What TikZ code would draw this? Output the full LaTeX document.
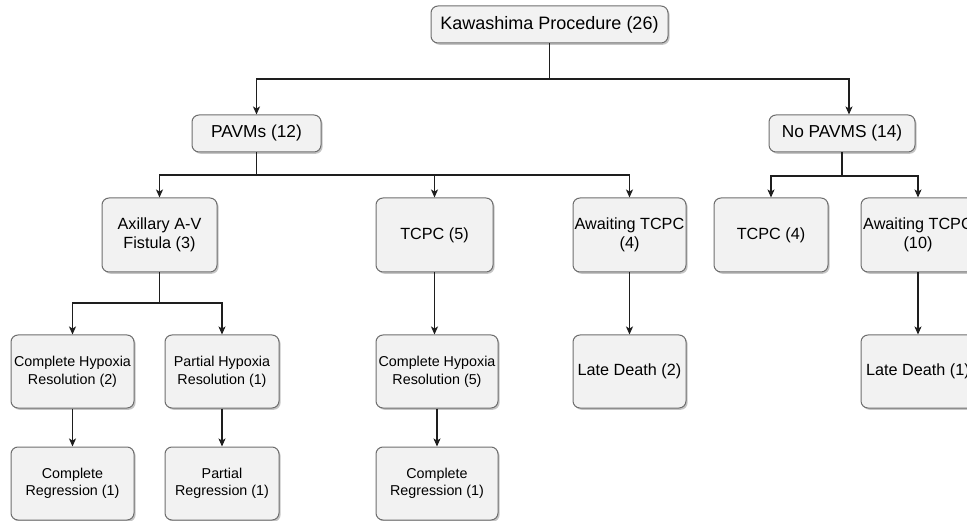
\documentclass[tikz,border=0pt]{standalone}
\usepackage{fontspec}
\setmainfont{Liberation Sans}
\usetikzlibrary{arrows.meta,shadows}
\definecolor{boxfill}{HTML}{F2F2F2}
\definecolor{boxdraw}{HTML}{6E6E6E}
\definecolor{linec}{HTML}{1E1E1E}
\tikzset{
  box/.style={draw=boxdraw, line width=1pt, fill=boxfill, rounded corners=7pt,
    align=center, inner sep=0pt, anchor=center,
    drop shadow={shadow xshift=1.6pt, shadow yshift=-1.8pt, fill=black!45, opacity=0.5}},
  fa/.style={font=\fontsize{18}{21}\selectfont},
  fb/.style={font=\fontsize{17.3}{20}\selectfont},
  fc/.style={font=\fontsize{16.2}{19.5}\selectfont},
  fd/.style={font=\fontsize{14.3}{17.6}\selectfont},
  conn/.style={draw=linec, line width=1.1pt},
  arr/.style={conn, -{Stealth[length=8pt,width=7pt,inset=2pt]}}
}
\begin{document}
\begin{tikzpicture}[x=1pt,y=-1pt]
\useasboundingbox (0,0) rectangle (967,521);
\clip (0,0) rectangle (967,521);
% nodes
\node[box,fa,minimum width=237pt,minimum height=37pt] (top) at (549.5,24.5) {Kawashima Procedure (26)};
\node[box,fb,minimum width=129pt,minimum height=37pt] (pavm) at (256.5,133.5) {PAVMs (12)};
\node[box,fb,minimum width=146pt,minimum height=37pt] (nopavm) at (842,133.5) {No PAVMS (14)};
\node[box,fc,minimum width=115pt,minimum height=74pt] (axil) at (159.5,235) {Axillary A-V\\Fistula (3)};
\node[box,fc,minimum width=117pt,minimum height=74pt] (tcpc5) at (434.5,235) {TCPC (5)};
\node[box,fc,minimum width=113pt,minimum height=74pt] (await4) at (629.5,235) {Awaiting TCPC\\(4)};
\node[box,fc,minimum width=114pt,minimum height=74pt] (tcpc4) at (771,235) {TCPC (4)};
\node[box,fc,minimum width=114pt,minimum height=74pt] (await10) at (918,235) {Awaiting TCPC\\(10)};
\node[box,fd,minimum width=123pt,minimum height=73pt] (chr2) at (72.5,371.5) {Complete Hypoxia\\Resolution (2)};
\node[box,fd,minimum width=114pt,minimum height=73pt] (phr1) at (222,371.5) {Partial Hypoxia\\Resolution (1)};
\node[box,fd,minimum width=122pt,minimum height=73pt] (chr5) at (437,371.5) {Complete Hypoxia\\Resolution (5)};
\node[box,fc,minimum width=113pt,minimum height=73pt] (late2) at (629.5,371.5) {Late Death (2)};
\node[box,fc,minimum width=114pt,minimum height=73pt] (late1) at (918,371.5) {Late Death (1)};
\node[box,fd,minimum width=123pt,minimum height=73pt] (cr1a) at (72.5,483.5) {Complete\\Regression (1)};
\node[box,fd,minimum width=114pt,minimum height=73pt] (pr1) at (222,483.5) {Partial\\Regression (1)};
\node[box,fd,minimum width=122pt,minimum height=73pt] (cr1b) at (437,483.5) {Complete\\Regression (1)};
% junctions
\coordinate (j1) at (549.5,79);
\coordinate (j2) at (256.5,175);
\coordinate (j3) at (159.5,303);
\coordinate (j4) at (842,176);
% connectors
\draw[conn] (top.south) -- (j1);
\draw[arr] (j1) -| (pavm.north);
\draw[arr] (j1) -| ([xshift=7pt]nopavm.north);
\draw[conn] (pavm.south) -- (j2);
\draw[arr] (j2) -| (axil.north);
\draw[arr] (j2) -| (tcpc5.north);
\draw[arr] (j2) -| (await4.north);
\draw[conn] (axil.south) -- (j3);
\draw[arr] (j3) -| (chr2.north);
\draw[arr] (j3) -| (phr1.north);
\draw[arr] (chr2.south) -- (cr1a.north);
\draw[arr] (phr1.south) -- (pr1.north);
\draw[arr] (tcpc5.south) -- (tcpc5.south |- chr5.north);
\draw[arr] (chr5.south) -- (chr5.south |- cr1b.north);
\draw[arr] (await4.south) -- (late2.north);
\draw[conn] (nopavm.south) -- (j4);
\draw[arr] (j4) -| (tcpc4.north);
\draw[arr] (j4) -| (await10.north);
\draw[arr] (await10.south) -- (late1.north);
\end{tikzpicture}
\end{document}
